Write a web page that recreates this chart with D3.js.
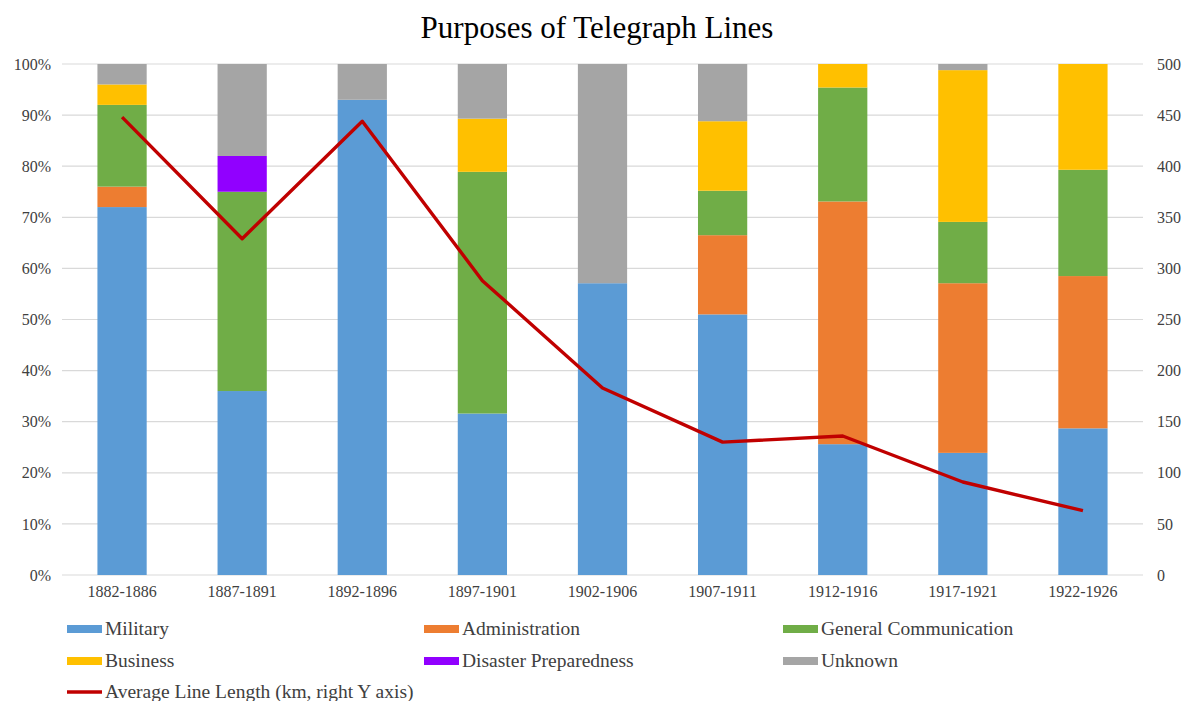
<!DOCTYPE html>
<html><head><meta charset="utf-8">
<script src="https://cdn.jsdelivr.net/npm/d3@7"></script>
<style>body{margin:0;background:#fff;} svg{display:block;font-family:"Liberation Serif","DejaVu Serif",serif;}</style>
</head><body>
<svg id="c" width="1187" height="701"></svg>
<script>
const categories = ["1882-1886","1887-1891","1892-1896","1897-1901","1902-1906","1907-1911","1912-1916","1917-1921","1922-1926"];
const military = [72, 36, 93, 31.6, 57.1, 51, 25.6, 23.9, 28.7];
const administration = [4, 0, 0, 0, 0, 15.5, 47.5, 33.2, 29.8];
const generalComm = [16, 39, 0, 47.3, 0, 8.7, 22.3, 12, 20.8];
const business = [4, 0, 0, 10.4, 0, 13.6, 4.6, 29.7, 20.7];
const disaster = [0, 7, 0, 0, 0, 0, 0, 0, 0];
const unknown = [4, 18, 7, 10.7, 42.9, 11.2, 0, 1.2, 0];
const avgLength = [448, 329, 444, 288, 183, 130, 136, 91, 63];
const leftTicks = [0,10,20,30,40,50,60,70,80,90,100];
const rightTicks = [0,50,100,150,200,250,300,350,400,450,500];

const seriesNames = ["Military","Administration","General Communication","Business","Disaster Preparedness","Unknown"];
const seriesData = [military, administration, generalComm, business, disaster, unknown];
const colors = ["#5B9BD5","#ED7D31","#70AD47","#FFC000","#9100FF","#A5A5A5"];
const lineColor = "#C00000";

const svg = d3.select("#c");
const L = 62, R = 1143, T = 64, B = 575;
const FONT = "Liberation Serif";

const x = d3.scaleBand().domain(categories).range([L, R]).paddingInner(0.59).paddingOuter(0.295);
const y = d3.scaleLinear().domain([0,100]).range([B, T]);
const y2 = d3.scaleLinear().domain([0,500]).range([B, T]);

// title
svg.append("text").attr("x", 597).attr("y", 38).attr("text-anchor","middle")
  .attr("font-size", 31).attr("font-family",FONT).attr("fill","#000").text("Purposes of Telegraph Lines");

// gridlines
svg.append("g").selectAll("line").data(leftTicks).join("line")
  .attr("x1", L).attr("x2", R).attr("y1", d=>y(d)).attr("y2", d=>y(d))
  .attr("stroke","#d9d9d9").attr("stroke-width",1.2);

// left axis
const ga = svg.append("g").attr("transform",`translate(${L},0)`)
  .call(d3.axisLeft(y).tickValues(leftTicks).tickFormat(d=>d+"%").tickSize(0).tickPadding(11));
ga.select(".domain").remove();
ga.selectAll("text").attr("font-size",16).attr("font-family",FONT).attr("fill","#404040");

// right axis
const gr = svg.append("g").attr("transform",`translate(${R},0)`)
  .call(d3.axisRight(y2).tickValues(rightTicks).tickSize(0).tickPadding(14));
gr.select(".domain").remove();
gr.selectAll("text").attr("font-size",16).attr("font-family",FONT).attr("fill","#404040");

// bottom axis
const gb = svg.append("g").attr("transform",`translate(0,${B})`)
  .call(d3.axisBottom(x).tickSize(0).tickPadding(11));
gb.select(".domain").remove();
gb.selectAll("text").attr("font-size",16).attr("font-family",FONT).attr("fill","#404040");

// stacked data
const rows = categories.map((c,i)=>{ const o={cat:c}; seriesNames.forEach((s,j)=>o[s]=seriesData[j][i]); return o; });
const stack = d3.stack().keys(seriesNames)(rows);
svg.append("g").selectAll("g").data(stack).join("g").attr("fill",(d,i)=>colors[i])
  .selectAll("rect").data(d=>d).join("rect")
  .attr("x", d=>x(d.data.cat)).attr("width", x.bandwidth())
  .attr("y", d=>y(d[1])).attr("height", d=>Math.max(0, y(d[0])-y(d[1])));

// line
const line = d3.line().x((d,i)=>x(categories[i])+x.bandwidth()/2).y(d=>y2(d));
svg.append("path").datum(avgLength).attr("d", line).attr("fill","none")
  .attr("stroke", lineColor).attr("stroke-width",3.4).attr("stroke-linejoin","round");

// legend
const legCols = [67, 424, 783];
const legRows = [629, 661, 692];
const lg = svg.append("g");
seriesNames.forEach((s,i)=>{
  const cx = legCols[i%3], cy = legRows[Math.floor(i/3)];
  lg.append("rect").attr("x",cx).attr("y",cy-4).attr("width",35).attr("height",8).attr("fill",colors[i]);
  lg.append("text").attr("x",cx+38).attr("y",cy+6).attr("font-size",19.5).attr("font-family",FONT).attr("fill","#404040").text(s);
});
lg.append("line").attr("x1",67).attr("x2",102).attr("y1",legRows[2]).attr("y2",legRows[2])
  .attr("stroke",lineColor).attr("stroke-width",3.4);
lg.append("text").attr("x",105).attr("y",legRows[2]+6).attr("font-size",19.5).attr("font-family",FONT).attr("fill","#404040")
  .text("Average Line Length (km, right Y axis)");
</script>
</body></html>
